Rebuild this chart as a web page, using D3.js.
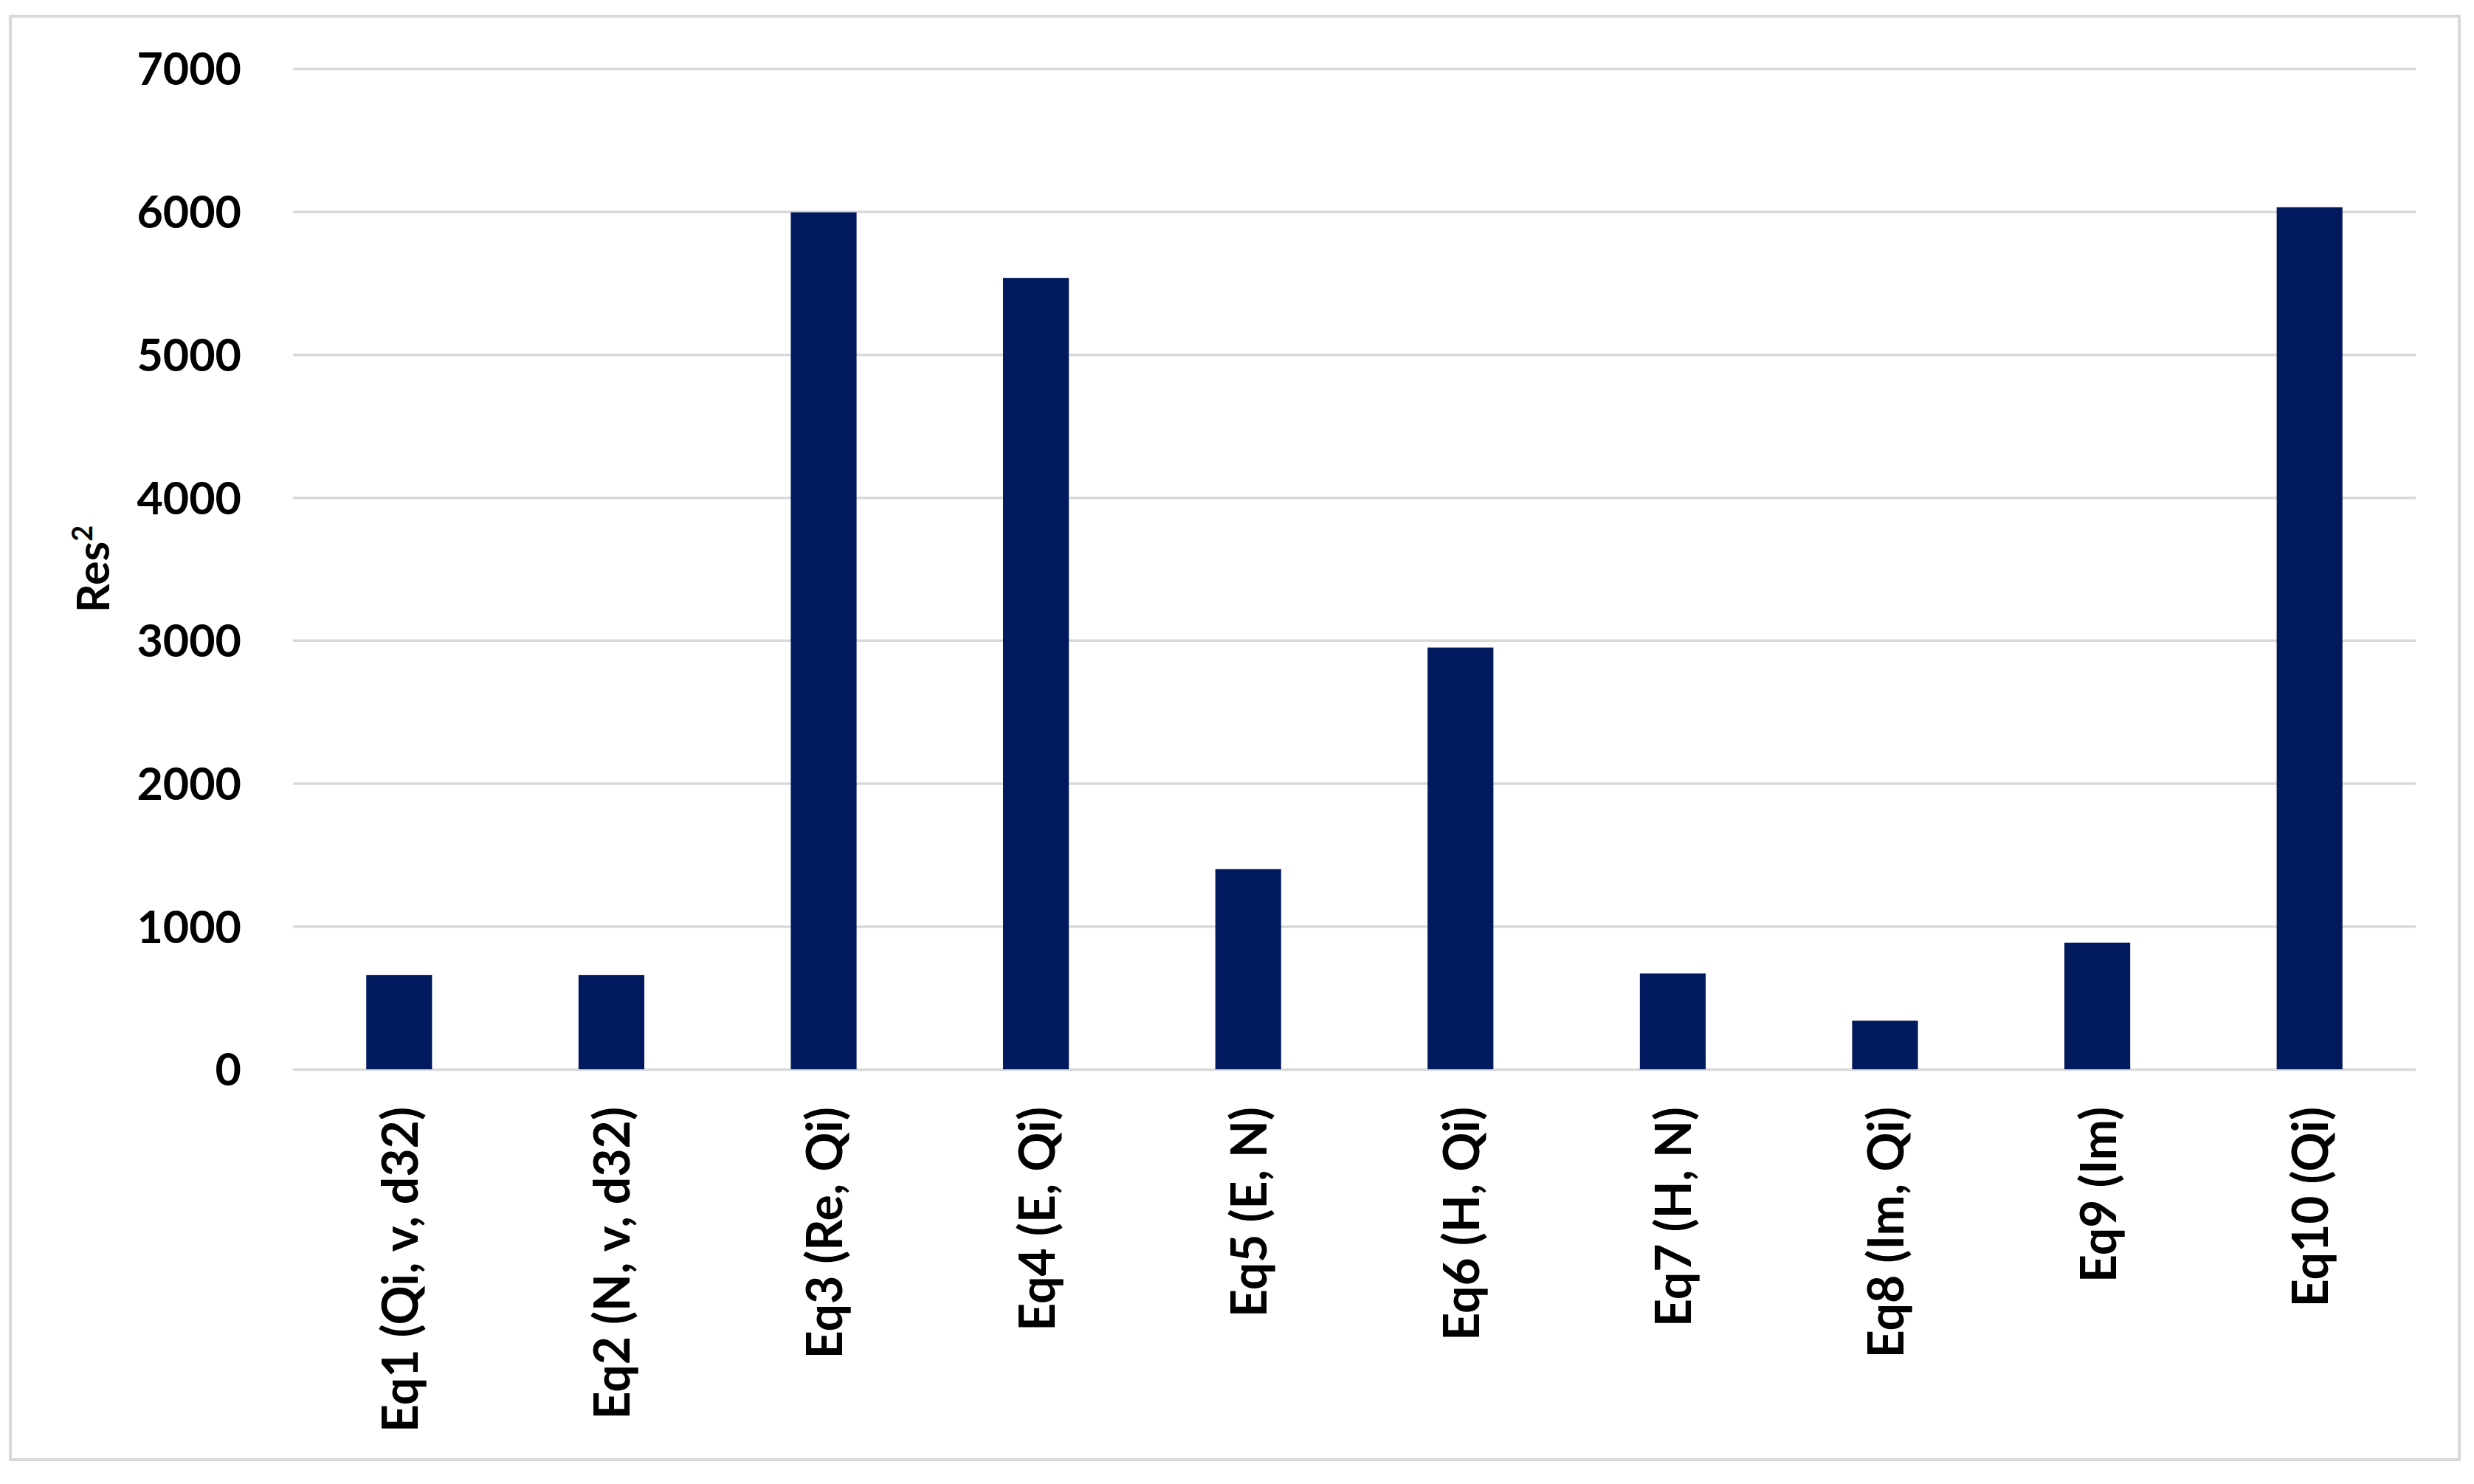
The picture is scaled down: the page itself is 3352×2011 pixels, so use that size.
<!DOCTYPE html>
<html>
<head>
<meta charset="utf-8">
<script src="https://cdn.jsdelivr.net/npm/d3@7"></script>
<style>
  html, body { margin: 0; padding: 0; background: #ffffff; }
  svg { display: block; }
</style>
</head>
<body>
<script>
// ---- data ----
const categories = ["Eq1 (Qi, v, d32)", "Eq2 (N, v, d32)", "Eq3 (Re, Qi)", "Eq4 (E, Qi)", "Eq5 (E, N)",
                    "Eq6 (H, Qi)", "Eq7 (H, N)", "Eq8 (Im, Qi)", "Eq9 (Im)", "Eq10 (Qi)"];
const values = [660, 660, 5995, 5535, 1400, 2950, 670, 340, 885, 6030];
const yTicks = [0, 1000, 2000, 3000, 4000, 5000, 6000, 7000];
const yTitle = "Res";
const yTitleSup = "2";

// ---- layout ----
const W = 3352, H = 2011;
const margin = { left: 397, right: 3352 - 3273, top: 93, bottom: 2011 - 1449 };
const innerW = W - margin.left - margin.right;
const innerH = H - margin.top - margin.bottom;
const FONT = "Lato, 'Open Sans', sans-serif";
const FS = 61;
const FSX = 66;
const barColor = "#011a5e";
const gridColor = "#d9d9d9";

const svg = d3.select("body").append("svg").attr("width", W).attr("height", H);

svg.append("rect").attr("x", 0).attr("y", 0).attr("width", W).attr("height", H).attr("fill", "#fff");
// outer chart border
svg.append("rect")
  .attr("x", 14).attr("y", 22).attr("width", 3318).attr("height", 1956)
  .attr("fill", "#fff").attr("stroke", gridColor).attr("stroke-width", 4);

const g = svg.append("g").attr("transform", `translate(${margin.left},${margin.top})`);

const x = d3.scaleBand().domain(categories).range([0, innerW]).paddingInner(0.69).paddingOuter(0.345);
const y = d3.scaleLinear().domain([0, 7000]).range([innerH, 0]);

// y axis with gridlines
const yAxis = g.append("g")
  .call(d3.axisLeft(y).tickValues(yTicks).tickSize(-innerW).tickPadding(70).tickFormat(d3.format("d")));
yAxis.select(".domain").remove();
yAxis.selectAll(".tick line").attr("stroke", gridColor).attr("stroke-width", 3.5);
yAxis.selectAll(".tick text")
  .attr("font-family", FONT).attr("font-weight", 700).attr("font-size", FS).attr("fill", "#000")
  .attr("dy", "0.36em");

// bars
g.selectAll("rect.bar").data(values).join("rect")
  .attr("class", "bar")
  .attr("x", (d, i) => x(categories[i]))
  .attr("y", d => y(d))
  .attr("width", x.bandwidth())
  .attr("height", d => y(0) - y(d))
  .attr("fill", barColor);

// x axis labels
const xAxis = g.append("g").attr("transform", `translate(0,${innerH})`)
  .call(d3.axisBottom(x).tickSize(0).tickPadding(0));
xAxis.select(".domain").remove();
xAxis.selectAll(".tick text")
  .attr("font-family", FONT).attr("font-weight", 700).attr("font-size", FSX).attr("fill", "#000")
  .attr("text-anchor", "end")
  .attr("transform", "rotate(-90)")
  .attr("x", -51).attr("y", 0).attr("dy", "0.38em");

// y title
const yt = svg.append("text")
  .attr("transform", `translate(148,${margin.top + innerH / 2}) rotate(-90)`)
  .attr("text-anchor", "middle")
  .attr("font-family", FONT).attr("font-weight", 700).attr("font-size", FS).attr("fill", "#000");
yt.append("tspan").text(yTitle);
yt.append("tspan").attr("font-size", FS * 0.62).attr("dy", -FS * 0.38).text(yTitleSup);
</script>
</body>
</html>
